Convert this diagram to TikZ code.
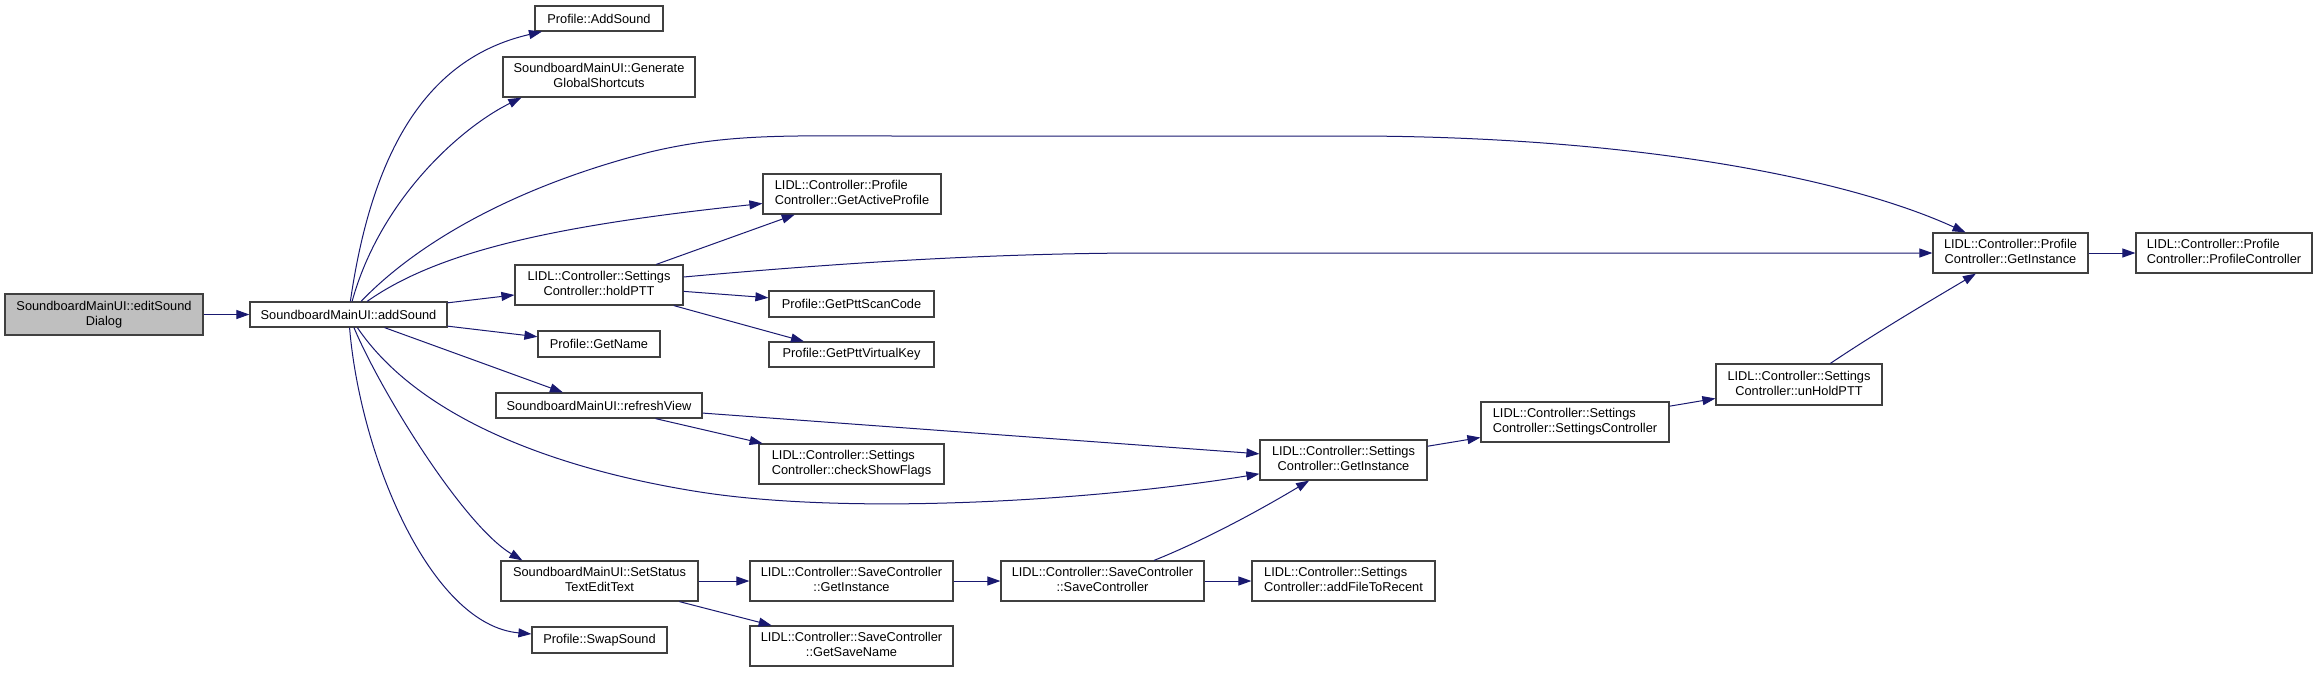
\documentclass[tikz,border=0pt]{standalone}
\usepackage{fontspec}
\setmainfont{Liberation Sans}
\usetikzlibrary{arrows.meta}
\definecolor{edgec}{RGB}{25,25,112}
\definecolor{boxc}{RGB}{64,64,64}
\definecolor{rootc}{RGB}{191,191,191}
\newcommand{\twoline}[2]{\begin{tabular}{@{}l@{}}#1\\\multicolumn{1}{@{}c@{}}{#2}\end{tabular}}
\begin{document}
\begin{tikzpicture}[x=1pt,y=-1pt,
  box/.style={draw=boxc, line width=1.2pt, fill=white, inner sep=0pt, font=\fontsize{12.8}{15}\selectfont},
  edge/.style={draw=edgec, line width=1pt, -{Triangle[length=13pt,width=9pt]}}]
\useasboundingbox (0,0) rectangle (2317,673);
\fill[white] (0,0) rectangle (2317,673);

\node[box, fill=rootc, minimum width=198pt, minimum height=41pt] (esd) at (104,314.5) {\twoline{SoundboardMainUI::editSound}{Dialog}};
\node[box, minimum width=197pt, minimum height=25pt] (add) at (348.5,314.5) {SoundboardMainUI::addSound};
\node[box, minimum width=128pt, minimum height=25pt] (pas) at (599,18.5) {Profile::AddSound};
\node[box, minimum width=192pt, minimum height=40pt] (ggs) at (599,77) {\twoline{SoundboardMainUI::Generate}{GlobalShortcuts}};
\node[box, minimum width=178pt, minimum height=40pt] (gap) at (852,194) {\twoline{LIDL::Controller::Profile}{Controller::GetActiveProfile}};
\node[box, minimum width=168pt, minimum height=40pt] (hold) at (599,285) {\twoline{LIDL::Controller::Settings}{Controller::holdPTT}};
\node[box, minimum width=165pt, minimum height=26pt] (psc) at (851.5,304) {Profile::GetPttScanCode};
\node[box, minimum width=165pt, minimum height=25pt] (pvk) at (851.5,354.5) {Profile::GetPttVirtualKey};
\node[box, minimum width=122pt, minimum height=26pt] (gn) at (599,344) {Profile::GetName};
\node[box, minimum width=206pt, minimum height=25pt] (rv) at (599,405.5) {SoundboardMainUI::refreshView};
\node[box, minimum width=185pt, minimum height=40pt] (csf) at (851.5,464) {\twoline{LIDL::Controller::Settings}{Controller::checkShowFlags}};
\node[box, minimum width=197pt, minimum height=40pt] (sst) at (599.5,581) {\twoline{SoundboardMainUI::SetStatus}{TextEditText}};
\node[box, minimum width=135pt, minimum height=26pt] (ss) at (599.5,640) {Profile::SwapSound};
\node[box, minimum width=203pt, minimum height=40pt] (sgi) at (851.5,581) {\twoline{LIDL::Controller::SaveController}{::GetInstance}};
\node[box, minimum width=203pt, minimum height=40pt] (gsn) at (851.5,646) {\twoline{LIDL::Controller::SaveController}{::GetSaveName}};
\node[box, minimum width=167pt, minimum height=40pt] (stgi) at (1343.5,460) {\twoline{LIDL::Controller::Settings}{Controller::GetInstance}};
\node[box, minimum width=203pt, minimum height=40pt] (scsc) at (1102.5,581) {\twoline{LIDL::Controller::SaveController}{::SaveController}};
\node[box, minimum width=183pt, minimum height=40pt] (aftr) at (1343.5,581) {\twoline{LIDL::Controller::Settings}{Controller::addFileToRecent}};
\node[box, minimum width=188pt, minimum height=40pt] (stsc) at (1575,422) {\twoline{LIDL::Controller::Settings}{Controller::SettingsController}};
\node[box, minimum width=166pt, minimum height=41pt] (uhp) at (1799,384.5) {\twoline{LIDL::Controller::Settings}{Controller::unHoldPTT}};
\node[box, minimum width=155pt, minimum height=40pt] (pcgi) at (2010.5,253) {\twoline{LIDL::Controller::Profile}{Controller::GetInstance}};
\node[box, minimum width=176pt, minimum height=40pt] (pcpc) at (2224,253) {\twoline{LIDL::Controller::Profile}{Controller::ProfileController}};

\draw[edge] (esd) -- (add);
\draw[edge] (add) .. controls (375,130) and (440,55) .. (pas);
\draw[edge] (add) .. controls (380,200) and (460,128) .. ([xshift=19pt]ggs.south west);
\draw[edge] (add) .. controls (420,240) and (520,185) .. (650,152) .. controls (730,133) and (790,136) .. (900,136) -- (1350,136) .. controls (1620,136) and (1840,175) .. (pcgi);
\draw[edge] (add) .. controls (440,250) and (560,225) .. (gap);
\draw[edge] (add) -- (hold);
\draw[edge] (add) -- (gn);
\draw[edge] (add) -- (rv);
\draw[edge] (add) .. controls (420,420) and (560,470) .. (700,492) .. controls (854,516) and (1100,500) .. (stgi);
\draw[edge] (add) .. controls (380,390) and (463,525) .. ([xshift=22pt]sst.north west);
\draw[edge] (add) .. controls (360,455) and (430,625) .. (ss);
\draw[edge] (hold) -- (gap);
\draw[edge] ([yshift=8pt]hold.east) .. controls (850,262) and (1000,253) .. (1150,253) -- (pcgi);
\draw[edge] (hold) -- (psc);
\draw[edge] (hold) -- (pvk);
\draw[edge] (rv) -- (stgi);
\draw[edge] (rv) -- (csf);
\draw[edge] (sst) -- (sgi);
\draw[edge] (sst) -- (gsn);
\draw[edge] (sgi) -- (scsc);
\draw[edge] (scsc) .. controls (1205,540) and (1260,510) .. (stgi);
\draw[edge] (scsc) -- (aftr);
\draw[edge] (stgi) -- (stsc);
\draw[edge] (stsc) -- (uhp);
\draw[edge] (uhp) .. controls (1880,330) and (1940,295) .. (pcgi);
\draw[edge] (pcgi) -- (pcpc);
\end{tikzpicture}
\end{document}
